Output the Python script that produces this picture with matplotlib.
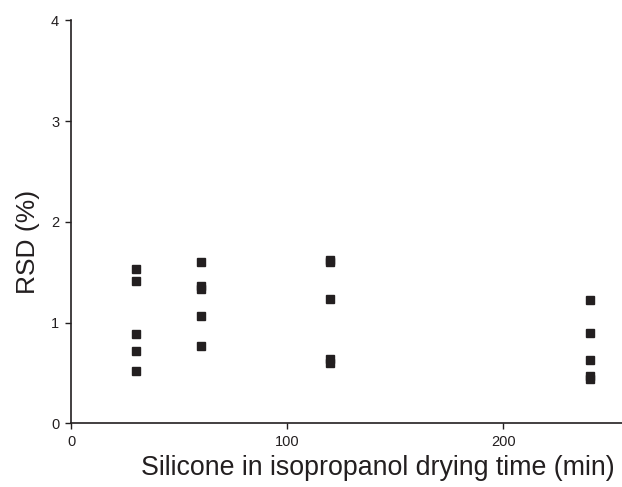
import matplotlib
matplotlib.use("Agg")
import matplotlib.pyplot as plt

plt.rcParams['font.family'] = ['Liberation Sans', 'DejaVu Sans']

# drying times (min) and RSD (%)
time_30 = [30, 30, 30, 30, 30]
rsd_30 = [1.53, 1.41, 0.89, 0.72, 0.52]
time_60 = [60, 60, 60, 60, 60]
rsd_60 = [1.60, 1.36, 1.33, 1.065, 0.77]
time_120 = [120, 120, 120, 120, 120]
rsd_120 = [1.62, 1.60, 1.235, 0.64, 0.60]
time_240 = [240, 240, 240, 240, 240]
rsd_240 = [1.22, 0.90, 0.625, 0.47, 0.44]

xticks = [0, 100, 200]
yticks = [0, 1, 2, 3, 4]

fig = plt.figure(figsize=(6.22, 4.87), dpi=100)
# the x axis runs past the right edge of the picture
ax = fig.add_axes([71 / 622, 1 - 423.3 / 487, 614 / 622, (423.3 - 20.3) / 487])

for t, r in [(time_30, rsd_30), (time_60, rsd_60), (time_120, rsd_120), (time_240, rsd_240)]:
    ax.plot(t, r, linestyle='none', marker='s', markersize=6, color='#231f20')

ax.set_xlim(0, 284)
ax.set_ylim(0, 4)
ax.set_xticks(xticks)
ax.set_yticks(yticks)
ax.spines['top'].set_visible(False)
ax.spines['right'].set_visible(False)
for s in ['left', 'bottom']:
    ax.spines[s].set_linewidth(1.2)
    ax.spines[s].set_color('#231f20')
ax.tick_params(direction='out', length=4.5, width=1.0, labelsize=10.5, colors='#231f20', pad=4)

ax.set_xlabel('Silicone in isopropanol drying time (min)', fontsize=19.3, labelpad=4, color='#231f20')
ax.set_ylabel('RSD (%)', fontsize=19, color='#231f20')
ax.yaxis.set_label_coords(-0.05, 0.45)

fig.savefig('out.png', dpi=100)
